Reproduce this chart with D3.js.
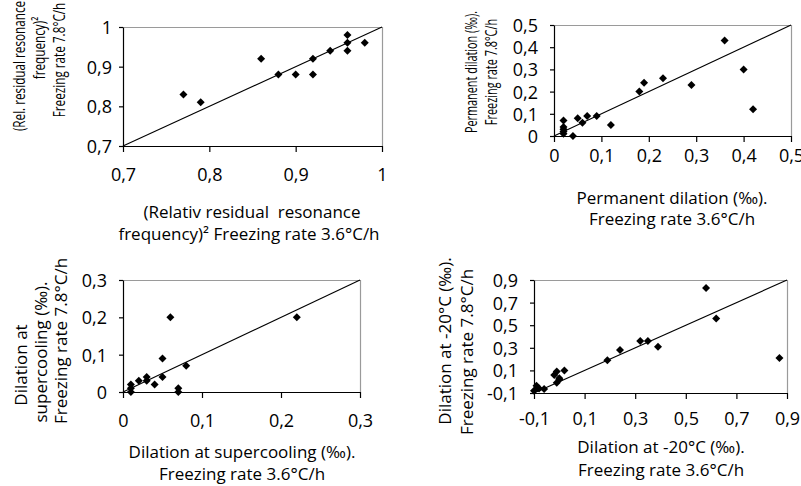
<!DOCTYPE html>
<html>
<head>
<meta charset="utf-8">
<script src="https://cdn.jsdelivr.net/npm/d3@7"></script>
<style>
  body { margin: 0; background: #fff; }
  svg text { font-family: "Open Sans", sans-serif; fill: #000; white-space: pre; }
</style>
</head>
<body>
<div class="chart"></div>
<script>
var svgWidth = 801;
var svgHeight = 486;

// panel 1: relative residual resonance frequency
var p1X = [0.77, 0.79, 0.86, 0.88, 0.90, 0.92, 0.92, 0.94, 0.96, 0.96, 0.96, 0.98];
var p1Y = [0.83, 0.81, 0.92, 0.88, 0.88, 0.92, 0.88, 0.94, 0.98, 0.96, 0.94, 0.96];
var p1Ticks = [0.7, 0.8, 0.9, 1];
var p1TickLabels = ["0,7", "0,8", "0,9", "1"];

// panel 2: permanent dilation
var p2X = [0.02, 0.02, 0.02, 0.02, 0.02, 0.04, 0.05, 0.06, 0.07, 0.09, 0.12, 0.18, 0.19, 0.23, 0.29, 0.36, 0.40, 0.42];
var p2Y = [0.07, 0.04, 0.03, 0.02, 0.01, 0.00, 0.08, 0.06, 0.09, 0.09, 0.05, 0.20, 0.24, 0.26, 0.23, 0.43, 0.30, 0.12];
var p2Ticks = [0, 0.1, 0.2, 0.3, 0.4, 0.5];
var p2TickLabels = ["0", "0,1", "0,2", "0,3", "0,4", "0,5"];

// panel 3: dilation at supercooling
var p3X = [0.01, 0.01, 0.01, 0.02, 0.03, 0.03, 0.04, 0.05, 0.05, 0.06, 0.07, 0.07, 0.08, 0.22];
var p3Y = [0.02, 0.01, 0.00, 0.03, 0.04, 0.03, 0.02, 0.09, 0.04, 0.20, 0.01, 0.00, 0.07, 0.20];
var p3Ticks = [0, 0.1, 0.2, 0.3];
var p3TickLabels = ["0", "0,1", "0,2", "0,3"];

// panel 4: dilation at -20°C
var p4X = [-0.10, -0.09, -0.085, -0.08, -0.06, -0.02, -0.01, 0.00, 0.00, -0.01, 0.02, 0.19, 0.24, 0.32, 0.35, 0.39, 0.58, 0.62, 0.87];
var p4Y = [-0.08, -0.035, -0.055, -0.06, -0.065, 0.06, 0.09, 0.03, 0.02, -0.01, 0.10, 0.19, 0.28, 0.36, 0.36, 0.31, 0.83, 0.56, 0.21];
var p4Ticks = [-0.1, 0.1, 0.3, 0.5, 0.7, 0.9];
var p4TickLabels = ["-0,1", "0,1", "0,3", "0,5", "0,7", "0,9"];

var p1XTitle = ["(Relativ residual  resonance", "frequency)² Freezing rate 3.6°C/h"];
var p1YTitle = ["(Rel. residual resonance", "frequency)²", "Freezing rate 7.8°C/h"];
var p2XTitle = ["Permanent dilation (‰).", "Freezing rate 3.6°C/h"];
var p2YTitle = ["Permanent dilation (‰).", "Freezing rate 7.8°C/h"];
var p3XTitle = ["Dilation at supercooling (‰).", "Freezing rate 3.6°C/h"];
var p3YTitle = ["Dilation at", "supercooling (‰).", "Freezing rate 7.8°C/h"];
var p4XTitle = ["Dilation at -20°C (‰).", "Freezing rate 3.6°C/h"];
var p4YTitle = ["Dilation at -20°C (‰).", "Freezing rate 7.8°C/h"];

// layout of each panel (pixels)
var panels = [
  { xs: p1X, ys: p1Y, ticks: p1Ticks, labels: p1TickLabels,
    left: 123, right: 382, top: 27, bottom: 146, xLabY: 35, yLabGap: 11,
    xTitle: p1XTitle, xTitlePos: [[252, 218], [249, 240]],
    yTitle: p1YTitle, yTitlePos: [[25, 66], [45, 48], [65, 60]], squeeze: 0.69 },
  { xs: p2X, ys: p2Y, ticks: p2Ticks, labels: p2TickLabels,
    left: 554, right: 791, top: 25, bottom: 136, xLabY: 26, yLabGap: 16,
    xTitle: p2XTitle, xTitlePos: [[672, 204], [672, 225]],
    yTitle: p2YTitle, yTitlePos: [[477, 72], [497, 72]], squeeze: 0.64 },
  { xs: p3X, ys: p3Y, ticks: p3Ticks, labels: p3TickLabels,
    left: 123, right: 360, top: 280, bottom: 392, xLabY: 35, yLabGap: 16,
    xTitle: p3XTitle, xTitlePos: [[242, 458], [242, 480]],
    yTitle: p3YTitle, yTitlePos: [[27, 365], [47, 352], [67, 341]], squeeze: 1 },
  { xs: p4X, ys: p4Y, ticks: p4Ticks, labels: p4TickLabels,
    left: 534, right: 787, top: 280, bottom: 393, xLabY: 32, yLabGap: 16,
    xTitle: p4XTitle, xTitlePos: [[661, 453], [661, 476]],
    yTitle: p4YTitle, yTitlePos: [[451, 341], [473, 352]], squeeze: 1 }
];

var svg = d3.select(".chart")
  .append("svg")
  .attr("width", svgWidth)
  .attr("height", svgHeight);

var diamond = d3.symbol().type(d3.symbolSquare).size(32);

panels.forEach(function(p) {
  var dom = [p.ticks[0], p.ticks[p.ticks.length - 1]];
  var x = d3.scaleLinear().domain(dom).range([p.left, p.right]);
  var y = d3.scaleLinear().domain(dom).range([p.bottom, p.top]);
  var fmt = function(d) { return p.labels[p.ticks.indexOf(d)]; };

  var g = svg.append("g");

  // grey frame on top and right
  g.append("path")
    .attr("d", "M" + p.left + "," + (p.top + 0.5) + "H" + (p.right + 0.5) + "V" + p.bottom)
    .attr("fill", "none")
    .attr("stroke", "#9a9a9a")
    .attr("stroke-width", 1.2);

  var xAxis = g.append("g")
    .attr("transform", "translate(0," + p.bottom + ")")
    .call(d3.axisBottom(x).tickValues(p.ticks).tickFormat(fmt).tickSize(6).tickSizeOuter(0));
  xAxis.selectAll("text").attr("y", p.xLabY).attr("dy", 0);

  var yAxis = g.append("g")
    .attr("transform", "translate(" + p.left + ",0)")
    .call(d3.axisLeft(y).tickValues(p.ticks).tickFormat(fmt).tickSize(4).tickSizeOuter(0));
  yAxis.selectAll("text").attr("x", -p.yLabGap).attr("dy", "0.36em");

  g.selectAll(".domain, .tick line").attr("stroke", "#000").attr("stroke-width", 1.2);
  g.selectAll(".tick text")
    .attr("font-family", "'Open Sans', sans-serif")
    .attr("font-size", 18)
    .attr("fill", "#000");

  // 1:1 line
  g.append("line")
    .attr("x1", x(dom[0])).attr("y1", y(dom[0]))
    .attr("x2", x(dom[1])).attr("y2", y(dom[1]))
    .attr("stroke", "#000")
    .attr("stroke-width", 1.1);

  g.selectAll(".pt")
    .data(d3.range(p.xs.length))
    .enter()
    .append("path")
    .attr("d", diamond)
    .attr("transform", function(i) {
      return "translate(" + x(p.xs[i]) + "," + y(p.ys[i]) + ") rotate(45)";
    })
    .attr("fill", "#000");

  p.xTitle.forEach(function(t, i) {
    g.append("text")
      .attr("x", p.xTitlePos[i][0])
      .attr("y", p.xTitlePos[i][1])
      .attr("text-anchor", "middle")
      .attr("font-size", 17)
      .text(t);
  });

  p.yTitle.forEach(function(t, i) {
    g.append("text")
      .attr("transform", "translate(" + p.yTitlePos[i][0] + "," + p.yTitlePos[i][1] + ") rotate(-90) scale(" + p.squeeze + ",1)")
      .attr("text-anchor", "middle")
      .attr("font-size", 17)
      .text(t);
  });
});
</script>
</body>
</html>
